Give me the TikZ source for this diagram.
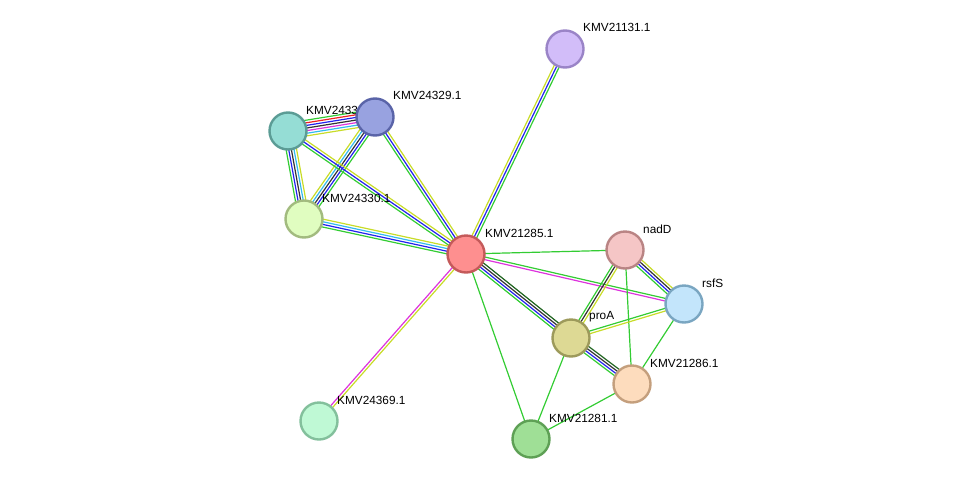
\documentclass[tikz,border=0pt]{standalone}
\usepackage{fontspec}
\setmainfont{Liberation Sans}
\usetikzlibrary{calc}
\definecolor{eg}{HTML}{33CC33}
\definecolor{eb}{HTML}{2222EE}
\definecolor{ey}{HTML}{C8DC28}
\definecolor{ec}{HTML}{33BBEE}
\definecolor{ek}{HTML}{333333}
\definecolor{em}{HTML}{DD33DD}
\definecolor{er}{HTML}{EE2222}
\definecolor{ed}{HTML}{226622}
\newcommand{\medge}[3]{%
  \foreach \c [count=\i] in {#3}{\xdef\ncnt{\i}}%
  \foreach \c [count=\i] in {#3}{%
    \pgfmathsetmacro{\off}{(\i-(\ncnt+1)/2)*2.6}%
    \draw[line width=1.2pt,\c] ($(#1)!\off pt!90:(#2)$) -- ($(#2)!\off pt!-90:(#1)$);}}
\tikzset{prot/.style={circle,minimum size=37pt,inner sep=0pt,line width=2.4pt},
  lab/.style={font=\fontsize{11.8}{13}\selectfont,anchor=west,inner sep=0pt}}
\begin{document}
\begin{tikzpicture}[x=1pt,y=-1pt]
\useasboundingbox (0,0) rectangle (976,485);
\coordinate (a131) at (565,49);
\coordinate (a329) at (375,117);
\coordinate (a331) at (288,131);
\coordinate (a330) at (304,219);
\coordinate (a285) at (466,254);
\coordinate (anad) at (625,250);
\coordinate (arsf) at (684,304);
\coordinate (apro) at (571,338);
\coordinate (a286) at (632,384);
\coordinate (a369) at (319,421);
\coordinate (a281) at (531,439);
\medge{a285}{a131}{eg,eb,ey}
\medge{a331}{a329}{ey,ec,em,ek,eb,er,eg}
\medge{a331}{a330}{eg,eb,ek,ec,ey}
\medge{a329}{a330}{ey,ec,ek,eb,eg}
\medge{a331}{a285}{eg,eb,ey}
\medge{a329}{a285}{eg,eb,ey}
\medge{a330}{a285}{eg,eb,ec,ey}
\medge{a285}{a369}{em,ey}
\medge{a285}{anad}{eg}
\medge{a285}{arsf}{em,eg}
\medge{a285}{apro}{eg,eb,ek,ed}
\medge{a285}{a281}{eg}
\medge{anad}{apro}{eg,ek,ey}
\medge{anad}{arsf}{eg,eb,ek,ey}
\medge{anad}{a286}{eg}
\medge{arsf}{apro}{eg,ey}
\medge{arsf}{a286}{eg}
\medge{apro}{a286}{eg,eb,ek,ed}
\medge{apro}{a281}{eg}
\medge{a286}{a281}{eg}
\node[prot,fill={rgb,255:red,210;green,189;blue,249},draw={rgb,255:red,154;green,132;blue,199}] (n131) at (a131) {};
\node[lab] (l131) at (583,27) {KMV21131.1};
\node[lab] (l331) at (306,110) {KMV24331.1};
\node[prot,fill={rgb,255:red,149;green,221;blue,213},draw={rgb,255:red,91;green,156;blue,149}] (n331) at (a331) {};
\node[prot,fill={rgb,255:red,152;green,162;blue,224},draw={rgb,255:red,90;green,100;blue,168}] (n329) at (a329) {};
\node[lab] (l329) at (393,95) {KMV24329.1};
\node[prot,fill={rgb,255:red,224;green,253;blue,192},draw={rgb,255:red,162;green,187;blue,127}] (n330) at (a330) {};
\node[lab] (l330) at (322,198) {KMV24330.1};
\node[prot,fill={rgb,255:red,254;green,143;blue,143},draw={rgb,255:red,196;green,90;blue,90}] (n285) at (a285) {};
\node[lab] (l285) at (485,233) {KMV21285.1};
\node[prot,fill={rgb,255:red,245;green,198;blue,198},draw={rgb,255:red,185;green,132;blue,132}] (nnad) at (anad) {};
\node[lab] (lnad) at (643,229) {nadD};
\node[prot,fill={rgb,255:red,195;green,229;blue,251},draw={rgb,255:red,122;green,166;blue,193}] (nrsf) at (arsf) {};
\node[lab] (lrsf) at (702,283) {rsfS};
\node[prot,fill={rgb,255:red,221;green,217;blue,148},draw={rgb,255:red,157;green,154;blue,91}] (npro) at (apro) {};
\node[lab] (lpro) at (589,317) {proA};
\node[prot,fill={rgb,255:red,253;green,220;blue,189},draw={rgb,255:red,196;green,159;blue,125}] (n286) at (a286) {};
\node[lab] (l286) at (650,363) {KMV21286.1};
\node[prot,fill={rgb,255:red,191;green,249;blue,213},draw={rgb,255:red,131;green,192;blue,156}] (n369) at (a369) {};
\node[lab] (l369) at (337,400) {KMV24369.1};
\node[prot,fill={rgb,255:red,159;green,223;blue,150},draw={rgb,255:red,94;green,160;blue,85}] (n281) at (a281) {};
\node[lab] (l281) at (549,418) {KMV21281.1};
\end{tikzpicture}
\end{document}
